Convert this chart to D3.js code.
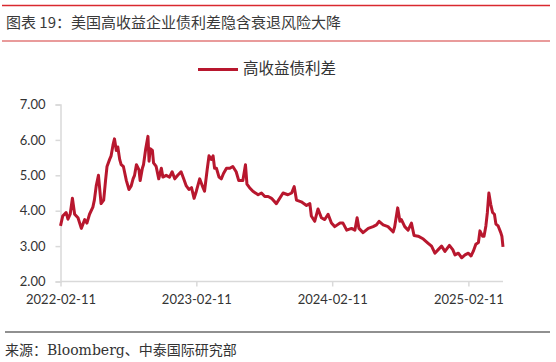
<!DOCTYPE html>
<html>
<head>
<meta charset="utf-8">
<script src="https://cdn.jsdelivr.net/npm/d3@7"></script>
<style>
  body { margin: 0; background: #fff; }
  svg { display: block; }
</style>
</head>
<body>
<div id="chart"></div>
<script>
// 高收益债利差 (%)
var dates = [
  "2022-02-11","2022-02-17","2022-02-26","2022-03-03","2022-03-09","2022-03-15","2022-03-21","2022-03-30",
  "2022-04-08","2022-04-17","2022-04-23","2022-04-30","2022-05-09","2022-05-13","2022-05-18","2022-05-24",
  "2022-05-31","2022-06-07","2022-06-12","2022-06-16","2022-06-23","2022-06-27","2022-07-02","2022-07-06",
  "2022-07-11","2022-07-15","2022-07-20","2022-07-24","2022-07-30","2022-08-07","2022-08-14","2022-08-20",
  "2022-08-25","2022-08-29","2022-09-03","2022-09-10","2022-09-13","2022-09-19","2022-09-22","2022-09-28",
  "2022-10-04","2022-10-07","2022-10-10","2022-10-16","2022-10-19","2022-10-26","2022-11-02","2022-11-09",
  "2022-11-13","2022-11-22","2022-12-01","2022-12-08","2022-12-15","2022-12-23","2023-01-01","2023-01-08",
  "2023-01-15","2023-01-22","2023-01-29","2023-02-05","2023-02-11","2023-02-20","2023-03-01","2023-03-05",
  "2023-03-12","2023-03-17","2023-03-23","2023-03-28","2023-04-01","2023-04-06","2023-04-13","2023-04-19",
  "2023-04-25","2023-05-03","2023-05-12","2023-05-20","2023-05-29","2023-06-05","2023-06-16","2023-06-23",
  "2023-06-27","2023-07-04","2023-07-13","2023-07-27","2023-08-05","2023-08-14","2023-08-23","2023-09-01",
  "2023-09-14","2023-10-02","2023-10-15","2023-10-25","2023-11-01","2023-11-07","2023-11-20","2023-12-04",
  "2023-12-13","2023-12-17","2023-12-26","2024-01-04","2024-01-13","2024-01-22","2024-01-31","2024-02-09",
  "2024-02-18","2024-03-03","2024-03-11","2024-03-21","2024-04-03","2024-04-12","2024-04-18","2024-04-23",
  "2024-05-04","2024-05-18","2024-05-31","2024-06-09","2024-06-16","2024-06-27","2024-07-10","2024-07-24",
  "2024-07-28","2024-08-05","2024-08-11","2024-08-15","2024-08-24","2024-09-02","2024-09-11","2024-09-18",
  "2024-09-29","2024-10-13","2024-10-26","2024-11-04","2024-11-13","2024-11-22","2024-12-01","2024-12-10",
  "2024-12-22","2024-12-31","2025-01-06","2025-01-15","2025-01-24","2025-02-02","2025-02-11","2025-02-18",
  "2025-02-24","2025-03-03","2025-03-10","2025-03-14","2025-03-21","2025-03-25","2025-03-30","2025-04-03",
  "2025-04-07","2025-04-12","2025-04-17","2025-04-22","2025-04-26","2025-05-02","2025-05-09","2025-05-12",
  "2025-05-15"
];
var spread = [
  3.57,3.85,3.95,3.76,3.90,4.35,3.90,3.80,
  3.50,3.75,3.65,3.90,4.10,4.30,4.70,5.00,
  4.20,4.30,4.85,5.25,5.45,5.55,5.85,6.03,
  5.70,5.80,5.45,5.30,5.25,4.85,4.60,4.70,
  4.90,5.00,5.30,5.15,4.85,5.20,5.30,5.75,
  6.10,5.40,5.75,5.70,5.35,5.25,4.90,5.20,
  4.95,5.00,4.95,5.10,4.90,5.00,5.10,4.90,
  4.70,4.60,4.65,4.35,4.55,4.90,4.65,4.55,
  5.15,5.55,5.45,5.55,5.20,5.20,4.95,4.90,
  5.05,5.20,5.20,5.25,5.10,4.85,4.85,5.30,
  4.75,4.65,4.55,4.45,4.50,4.40,4.40,4.35,
  4.20,4.50,4.45,4.50,4.68,4.30,4.25,4.15,
  4.20,3.85,3.70,4.05,3.80,3.75,3.90,3.65,
  3.55,3.65,3.65,3.45,3.50,3.45,3.80,3.50,
  3.38,3.50,3.55,3.60,3.70,3.60,3.55,3.40,
  3.55,4.08,3.70,3.75,3.55,3.45,3.65,3.30,
  3.28,3.20,3.08,3.00,2.80,2.90,3.00,2.85,
  3.02,2.90,2.75,2.80,2.67,2.75,2.80,2.72,
  2.85,3.05,3.10,3.43,3.28,3.28,3.57,3.95,
  4.50,4.18,3.95,3.90,3.62,3.57,3.38,3.28,
  2.98
];
var yTicks = [2, 3, 4, 5, 6, 7];
var xTickLabels = ["2022-02-11", "2023-02-11", "2024-02-11", "2025-02-11"];
var seriesName = "高收益债利差";

var width = 556, height = 362;
var parse = d3.timeParse("%Y-%m-%d");
var data = dates.map((d, i) => ({date: parse(d), value: spread[i]}));

var svg = d3.select("#chart").append("svg")
  .attr("width", width)
  .attr("height", height);

// header rules + title
svg.append("line").attr("x1", 2).attr("x2", 550).attr("y1", 5.5).attr("y2", 5.5)
  .style("stroke", "#d9292f").style("stroke-width", 1.6);
svg.append("line").attr("x1", 2).attr("x2", 550).attr("y1", 41).attr("y2", 41)
  .style("stroke", "#e27a7a").style("stroke-width", 1.6);
svg.append("text")
  .attr("x", 6).attr("y", 28)
  .style("font-family", "'Noto Sans CJK SC', 'Noto Sans', sans-serif")
  .style("font-size", "15px")
  .style("fill", "#3a3a3a")
  .text("图表 19：美国高收益企业债利差隐含衰退风险大降");

var x = d3.scaleTime()
  .domain([data[0].date, data[data.length - 1].date])
  .range([60.5, 503]);
var y = d3.scaleLinear().domain([2, 7]).range([281.5, 104.5]);

var yAxis = d3.axisLeft(y).tickValues(yTicks).tickSize(5).tickFormat(d3.format(".2f"));
var xAxis = d3.axisBottom(x).tickValues(xTickLabels.map(parse)).tickSize(5)
  .tickFormat(d3.timeFormat("%Y-%m-%d"));

var gy = svg.append("g").attr("transform", "translate(60.5,0)").call(yAxis);
var gx = svg.append("g").attr("transform", "translate(0,281.5)").call(xAxis);

[gy, gx].forEach(g => {
  g.select(".domain").style("stroke", "#d9d9d9").style("stroke-width", 1.5);
  g.selectAll(".tick line").style("stroke", "#d9d9d9").style("stroke-width", 1.5);
  g.selectAll(".tick text")
    .style("font-family", "Lato, 'Open Sans', sans-serif")
    .style("font-size", "13px")
    .style("fill", "#333");
});
gy.selectAll(".tick text").attr("x", -15);
gx.selectAll(".tick text").attr("y", 13);
gx.select(".domain").attr("d", "M60.5,0H503");

// the series
var line = d3.line().x(d => x(d.date)).y(d => y(d.value));
svg.append("path")
  .datum(data)
  .attr("d", line)
  .style("fill", "none")
  .style("stroke", "#b8172e")
  .style("stroke-width", 3)
  .style("stroke-linejoin", "round");

// legend
svg.append("line").attr("x1", 198).attr("x2", 238).attr("y1", 69.5).attr("y2", 69.5)
  .style("stroke", "#b8172e").style("stroke-width", 3);
svg.append("text")
  .attr("x", 243).attr("y", 70)
  .attr("dominant-baseline", "middle")
  .style("font-family", "'Noto Sans CJK SC', sans-serif")
  .style("font-size", "15.5px")
  .style("fill", "#333")
  .text(seriesName);

// footer
svg.append("line").attr("x1", 5).attr("x2", 550).attr("y1", 332).attr("y2", 332)
  .style("stroke", "#222").style("stroke-width", 1.2);
svg.append("text")
  .attr("x", 5).attr("y", 355)
  .style("font-family", "'DejaVu Serif', 'Noto Sans CJK SC', serif")
  .style("font-size", "14px")
  .style("fill", "#333")
  .text("来源：Bloomberg、中泰国际研究部");
</script>
</body>
</html>
